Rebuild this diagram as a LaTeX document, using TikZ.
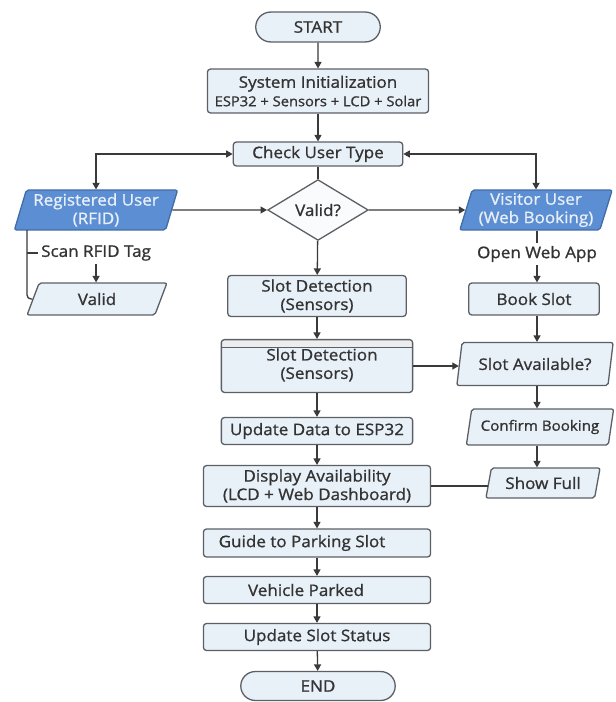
\documentclass[tikz,border=0pt]{standalone}
\usepackage{fontspec}
\setmainfont{Open Sans}[FakeStretch=1.07,FakeBold=1]
\usetikzlibrary{arrows.meta,shapes.geometric,shapes.misc}
\definecolor{boxfill}{HTML}{E8F0F8}
\definecolor{boxline}{HTML}{5C6066}
\definecolor{userfill}{HTML}{5B8ED2}
\definecolor{userline}{HTML}{3F6DA8}
\definecolor{usertext}{HTML}{E9EFF7}
\definecolor{txt}{HTML}{333333}
\definecolor{headfill}{HTML}{ECEDEF}
\definecolor{arrowc}{HTML}{3A3A3A}
\definecolor{diafill}{HTML}{FAFBFC}

\begin{document}
\begin{tikzpicture}[x=1bp,y=-1bp,
	font=\fontsize{16}{18.5}\selectfont, text=txt,
	box/.style={draw=boxline, fill=boxfill, line width=1.3bp, rounded corners=3bp, inner sep=0pt, align=center},
	pill/.style={rounded rectangle, draw=boxline, fill=boxfill, line width=1.3bp, inner sep=0pt},
	iobox/.style={trapezium, trapezium left angle=72, trapezium right angle=108, trapezium stretches=true, draw=boxline, fill=boxfill, line width=1.3bp, inner sep=0pt, align=center, rounded corners=2bp},
	userbox/.style={iobox, fill=userfill, draw=userline, text=usertext},
	arr/.style={-{Triangle[length=6.5bp,width=7bp]}, draw=arrowc, line width=1.3bp},
	biarr/.style={{Triangle[length=6.5bp,width=7bp]}-{Triangle[length=6.5bp,width=7bp]}, draw=arrowc, line width=1.3bp},
	line/.style={draw=arrowc, line width=1.3bp}]
	\useasboundingbox[fill=white] (0,0) rectangle (616,702);
	% main column
	\node[pill, minimum width=125, minimum height=30] (start) at (318,27) {START};
	\node[box, minimum width=222, minimum height=44] (init) at (318,91) {System Initialization\\{\fontsize{13.8}{16}\selectfont ESP32 + Sensors + LCD + Solar}};
	\node[box, minimum width=170, minimum height=24] (check) at (318,154) {Check User Type};
	\node[diamond, draw=boxline, fill=diafill, line width=1.3bp, inner sep=0pt, minimum width=101, minimum height=61] (valq) at (318,210) {Valid?};
	\node[box, minimum width=179, minimum height=41] (sd1) at (317,296) {Slot Detection\\(Sensors)};
	\node[box, minimum width=192, minimum height=53,
		path picture={\fill[headfill] (path picture bounding box.north west) rectangle ([yshift=-8bp]path picture bounding box.north east);
			\draw[boxline, line width=1.3bp] ([yshift=-8bp]path picture bounding box.north west) -- ([yshift=-8bp]path picture bounding box.north east);}]
		(sd2) at (317,366) {\raisebox{-4bp}{\begin{tabular}{@{}c@{}}\hspace{10bp}Slot Detection\\(Sensors)\end{tabular}}};
	\node[box, minimum width=192, minimum height=27] (upd) at (317,431) {Update Data to ESP32};
	\node[box, minimum width=228, minimum height=41] (disp) at (317,486) {Display Availability\\(LCD + Web Dashboard)};
	\node[box, minimum width=228, minimum height=28] (guide) at (317,543) {Guide to Parking Slot\hspace{30bp}};
	\node[box, minimum width=228, minimum height=27] (parked) at (317,590) {Vehicle Parked\hspace{22bp}};
	\node[box, minimum width=228, minimum height=27] (status) at (317,637) {Update Slot Status};
	\node[pill, minimum width=155, minimum height=29] (end) at (318,686) {END};
	% registered user side
	\node[userbox, minimum width=164, minimum height=40] (reg) at (96,210) {Registered User\\(RFID)};
	\coordinate (regfoot) at (27,230);
	\node[anchor=west, inner sep=3bp] (scan) at (38,253) {Scan RFID Tag};
	\node[iobox, minimum width=141, minimum height=32] (val) at (97,299) {Valid};
	% visitor side
	\coordinate (col) at (537,0);
	\node[userbox, minimum width=153, minimum height=40] (vis) at (536,210) {Visitor User\\(Web Booking)};
	\node[inner sep=3bp] (web) at (537,254) {Open Web App};
	\node[box, minimum width=131, minimum height=32] (book) at (534,299) {Book Slot};
	\node[iobox, minimum width=157, minimum height=43] (avail) at (535,364) {Slot Available?};
	\node[iobox, minimum width=148, minimum height=36, font=\fontsize{14.2}{16}\selectfont] (confirm) at (540,427) {Confirm Booking};
	\node[iobox, minimum width=115, minimum height=30] (full) at (543,483) {Show Full};

	\draw[arr] (start) -- (init);
	\draw[arr] (init) -- (check);
	\draw[biarr] (reg.north) |- (check.west);
	\draw[biarr] (vis.north) |- (check.east);
	\draw[line] (check) -- (valq);
	\draw[arr] (reg.east) -- (valq.west);
	\draw[arr] (valq.east) -- (vis.west);
	\draw[arr] (valq) -- (sd1);
	\draw[line, rounded corners=4bp] (regfoot) |- (val.west);
	\draw[line] (regfoot |- scan.west) -- (scan.west);
	\draw[arr] (scan.south) -- (scan.south |- val.north);
	\draw[line] (vis.south -| col) -- (web.north -| col);
	\draw[arr] (web.south -| col) -- (book.north -| col);
	\draw[arr] (book.south -| col) -- (avail.north -| col);
	\draw[arr] (avail.south -| col) -- (confirm.north -| col);
	\draw[arr] (confirm.south -| col) -- (full.north -| col);
	\draw[arr] (sd1) -- (sd2);
	\draw[arr] (sd2.east) -- (sd2.east -| avail.west);
	\draw[arr] (sd2) -- (upd);
	\draw[arr] (upd) -- (disp);
	\draw[line] (disp.east) -- (disp.east -| full.west);
	\draw[arr] (disp) -- (guide);
	\draw[arr] (guide) -- (parked);
	\draw[arr] (parked) -- (status);
	\draw[arr] (status) -- (end);
\end{tikzpicture}
\end{document}
